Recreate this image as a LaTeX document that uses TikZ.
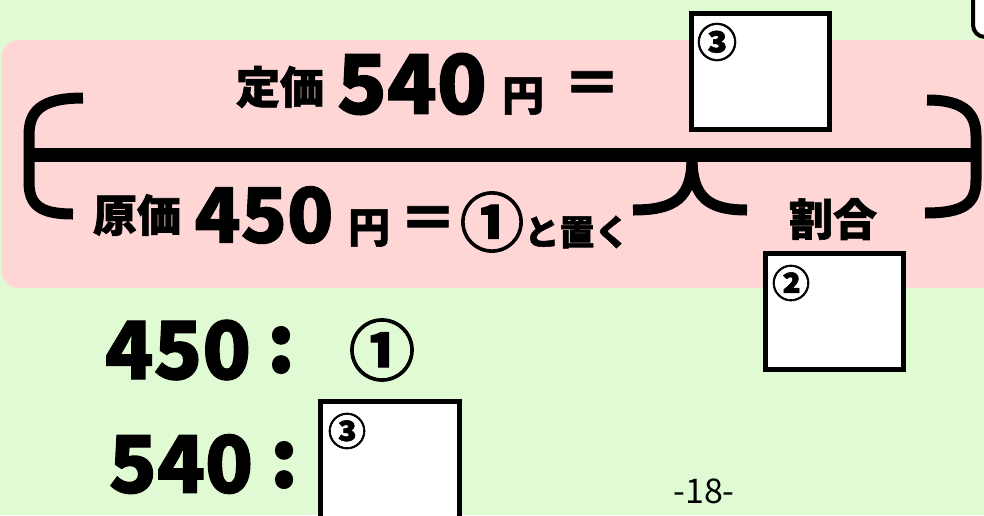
\documentclass[tikz,border=0pt]{standalone}
\usepackage{fontspec}
\newfontfamily\jpblack{Noto Sans CJK JP Black}[FakeBold=1.5]
\newfontfamily\jpreg{Noto Sans CJK JP}
\definecolor{bggreen}{RGB}{224,250,211}
\definecolor{bgpink}{RGB}{255,214,214}
\newcommand{\fsz}[1]{\fontsize{#1}{#1}\selectfont}
\tikzset{
  jp/.style={inner sep=0pt, outer sep=0pt, font={\jpblack\fsz{#1}}},
  ansbox/.style={draw=black, line width=5pt, fill=white, inner sep=0pt},
  bracestroke/.style={draw=black, line width=11pt},
  mainline/.style={draw=black, line width=14pt}
}
\begin{document}
\begin{tikzpicture}[x=1pt,y=-1pt]
\useasboundingbox (0,0) rectangle (984,515);
\clip (0,0) rectangle (984,515);
\fill[bggreen] (0,0) rectangle (984,515);
% partial box top right
\draw[line width=4pt, fill=white, rounded corners=12pt] (973,-30) rectangle (1020,37);
% pink panel
\fill[bgpink, rounded corners=18pt] (1,40) rectangle (1010,288);
% brace structure
\coordinate (Lt) at (83,98);
\coordinate (Lb) at (73,214);
\coordinate (Rt) at (927,100);
\coordinate (Rb) at (925,213);
\coordinate (Ml) at (633,210);
\coordinate (Mr) at (747,210);
\coordinate (Mc) at (692,158);
\coordinate (HL) at (29,155);
\coordinate (HR) at (976,155);
\draw[mainline] (HL) -- (HR);
\draw[bracestroke] (Lt) .. controls (40,98) and (29,112) .. (29,135) -- (29,182) .. controls (29,205) and (40,214) .. (Lb);
\draw[bracestroke] (Rt) .. controls (965,100) and (976,114) .. (976,136) -- (976,180) .. controls (976,203) and (965,213) .. (Rb);
\draw[bracestroke] (Ml) .. controls (675,210) and (692,198) .. (Mc);
\draw[bracestroke] (Mr) .. controls (709,210) and (692,198) .. (Mc);
% top row
\node[jp=44] (teika) at (280,87) {定価};
\node[jp=82] (n540a) at (412,84) {540};
\node[jp=42] (yenA) at (523,96) {円};
\node[jp=58] (eqA) at (592,88) {＝};
\node[ansbox, minimum width=138pt, minimum height=116pt] (box3a) at (760.5,71.5) {};
\node[jp=40] (c3a) at (717,42) {③};
% bottom row of panel
\node[jp=44] (genka) at (137,215) {原価};
\node[jp=76] (n450a) at (264,215) {450};
\node[jp=42] (yenB) at (369,228) {円};
\node[jp=58] (eqB) at (428,223) {＝};
\node[jp=64] (c1a) at (492,222) {①};
\node[jp=35] (oku) at (577,232) {と置く};
\node[jp=44] (wariai) at (833,219) {割合};
\node[ansbox, minimum width=138pt, minimum height=116pt] (box2) at (834.5,311.5) {};
\node[jp=38] (c2) at (791,283) {②};
% ratio lines
\node[jp=80] (n450b) at (178,350) {450};
\node[jp=80] (colA) at (281,350) {:};
\node[jp=66] (c1b) at (382,350) {①};
\node[jp=79] (n540b) at (181,464) {540};
\node[jp=80] (colB) at (284,465) {:};
\node[ansbox, minimum width=139pt, minimum height=140pt] (box3b) at (390,471.5) {};
\node[jp=38] (c3b) at (347,431) {③};
% page number
\node[inner sep=0pt, font={\jpreg\fsz{34}}] (page) at (704,491) {-18-};
\end{tikzpicture}
\end{document}
